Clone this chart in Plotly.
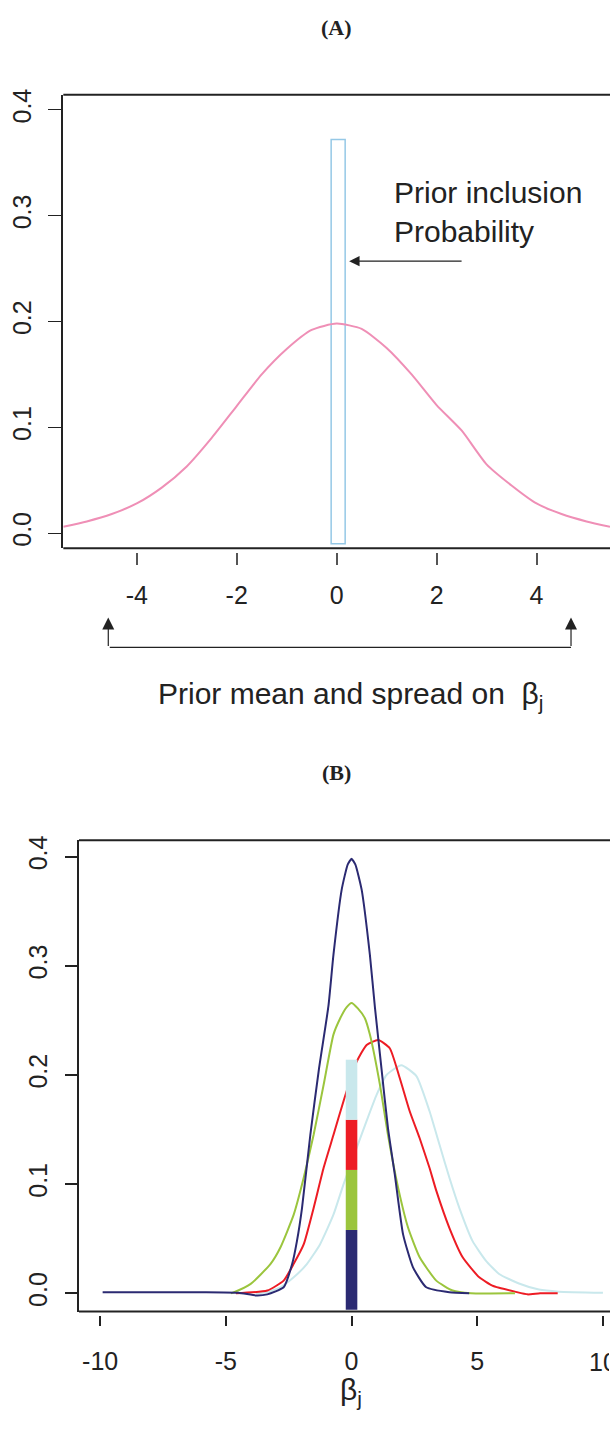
import plotly.graph_objects as go

W, H = 610, 1433

# ---------------- Panel A data ----------------
a_x = [-5.47, -5, -4.5, -4, -3.5, -3, -2.5, -2, -1.5, -1, -0.5, 0, 0.5, 1, 1.5, 2, 2.5, 3, 3.5, 4, 4.5, 5, 5.47]
a_y = [0.006, 0.011, 0.018, 0.028, 0.043, 0.063, 0.090, 0.120, 0.150, 0.174, 0.192, 0.198, 0.193, 0.175, 0.150,
       0.121, 0.097, 0.065, 0.045, 0.028, 0.018, 0.011, 0.006]
incl_x = [0.03]
incl_base = [-0.010]
incl_height = [0.382]
a_xticks = [-4, -2, 0, 2, 4]
a_xtick_labels = ["-4", "-2", "0", "2", "4"]
yticks = [0.0, 0.1, 0.2, 0.3, 0.4]
ytick_labels = ["0.0", "0.1", "0.2", "0.3", "0.4"]

# ---------------- Panel B data ----------------
navy_x = [-9.9, -6.0, -4.5, -3.8, -3.35, -2.7, -2.36, -2.17, -1.97, -1.64, -1.3, -0.92, -0.72, -0.39, -0.15, 0.0,
          0.15, 0.40, 0.73, 0.93, 1.19, 1.45, 1.72, 2.05, 2.44, 2.97, 3.89, 4.68]
navy_y = [0.001, 0.001, 0.0005, -0.002, -0.001, 0.0055, 0.027, 0.048, 0.078, 0.145, 0.205, 0.263, 0.31, 0.370,
          0.393, 0.398, 0.393, 0.370, 0.31, 0.262, 0.206, 0.151, 0.109, 0.054, 0.024, 0.0055, 0.001, 0.0]

green_x = [-4.8, -4.67, -4.01, -3.22, -2.83, -2.3, -1.9, -1.51, -1.11, -0.72, -0.45, -0.2, 0.0, 0.25, 0.53, 0.73,
           1.13, 1.45, 1.85, 2.25, 2.71, 3.37, 4.02, 4.75, 6.5]
green_y = [0.0, 0.001, 0.0086, 0.027, 0.042, 0.072, 0.106, 0.145, 0.191, 0.237, 0.252, 0.262, 0.266, 0.261, 0.252,
           0.237, 0.191, 0.145, 0.097, 0.060, 0.033, 0.0116, 0.0025, 0.0, 0.0]

red_x = [-4.6, -3.35, -2.7, -2.3, -1.9, -1.51, -1.11, -0.72, -0.32, 0.2, 0.6, 1.06, 1.52, 1.92, 2.31, 2.71, 3.1,
         3.37, 3.89, 4.42, 5.08, 5.6, 5.87, 6.5, 7.0, 7.5, 8.2]
red_y = [0.0, 0.0025, 0.0116, 0.027, 0.045, 0.078, 0.115, 0.145, 0.176, 0.212, 0.2275, 0.232, 0.2245, 0.197, 0.167,
         0.142, 0.115, 0.094, 0.060, 0.033, 0.0146, 0.007, 0.005, 0.0015, -0.001, 0.0, 0.0]

cyan_x = [-3.8, -3.35, -2.83, -2.3, -1.77, -1.25, -0.72, -0.32, 0.2, 0.6, 1.0, 1.39, 1.98, 2.58, 3.1, 3.5, 3.89,
          4.29, 4.81, 5.34, 5.87, 6.66, 7.45, 8.24, 10.0]
cyan_y = [0.0, 0.001, 0.0055, 0.0146, 0.027, 0.045, 0.072, 0.0998, 0.133, 0.158, 0.182, 0.200, 0.209, 0.199, 0.167,
          0.136, 0.106, 0.078, 0.048, 0.030, 0.0177, 0.009, 0.0034, 0.0015, 0.0005]

bar_floor = -0.015
bar_segments = [0.073, 0.055, 0.046, 0.055]   # navy, green, red, cyan
b_xticks = [-10, -5, 0, 5, 10]
b_xtick_labels = ["-10", "-5", "0", "5", "10"]

NAVY, GREEN, RED, CYAN = "#2b2a72", "#9bc53d", "#ed1c24", "#c9e8ec"
PINK, LBLUE = "#ef8fb6", "#95c8e6"
INK = "#222222"
FONT = "Liberation Sans, Arial, sans-serif"
SERIF = "Liberation Serif, Times New Roman, serif"


def pxx(px):
    return px / W


def pxy(py):
    return 1 - py / H


fig = go.Figure()

# Panel A
fig.add_trace(go.Bar(x=incl_x, y=incl_height, base=incl_base, width=0.28,
                     marker=dict(color="rgba(0,0,0,0)", line=dict(color=LBLUE, width=1.5)),
                     xaxis="x", yaxis="y", hoverinfo="skip"))
fig.add_trace(go.Scatter(x=a_x, y=a_y, mode="lines", line=dict(color=PINK, width=2, shape="spline", smoothing=0.6),
                         xaxis="x", yaxis="y", hoverinfo="skip"))

# Panel B curves (bottom to top)
for xs, ys, col in [(cyan_x, cyan_y, CYAN), (red_x, red_y, RED), (green_x, green_y, GREEN), (navy_x, navy_y, NAVY)]:
    fig.add_trace(go.Scatter(x=xs, y=ys, mode="lines", line=dict(color=col, width=2, shape="spline", smoothing=0.5),
                             xaxis="x2", yaxis="y2", hoverinfo="skip"))

# Panel B stacked bar, drawn above curves
bw = 0.46
lo = bar_floor
for h, col in zip(bar_segments, [NAVY, GREEN, RED, CYAN]):
    hi = lo + h
    fig.add_trace(go.Scatter(x=[-bw / 2, bw / 2, bw / 2, -bw / 2, -bw / 2], y=[lo, lo, hi, hi, lo],
                             mode="lines", fill="toself", fillcolor=col, line=dict(width=0, color=col),
                             xaxis="x2", yaxis="y2", hoverinfo="skip"))
    lo = hi

tickfont = dict(family=FONT, size=25, color=INK)

fig.update_layout(
    width=W, height=H, autosize=False, margin=dict(l=0, r=0, t=0, b=0),
    paper_bgcolor="white", plot_bgcolor="white", showlegend=False, barmode="overlay",
    xaxis=dict(domain=[pxx(63.3), 1], range=[-5.47, 5.47], anchor="free", position=pxy(548),
               tickvals=a_xticks, ticktext=a_xtick_labels, ticks="outside", ticklen=12, tickwidth=1.5,
               tickcolor="#555555", showline=False, showgrid=False, zeroline=False, tickfont=tickfont,
               ticklabelstandoff=9),
    yaxis=dict(domain=[pxy(544.5), pxy(89)], range=[-0.0143, 0.4144], anchor="x",
               tickvals=yticks, ticktext=ytick_labels, ticks="outside", ticklen=13, tickwidth=1.2,
               tickcolor=INK, showline=True, linewidth=2, linecolor=INK, showgrid=False, zeroline=False,
               tickangle=-90, tickfont=tickfont, ticklabelstandoff=7),
    xaxis2=dict(domain=[pxx(79), 1], range=[-10.84, 10.28], anchor="free", position=pxy(1315),
                tickvals=b_xticks, ticktext=b_xtick_labels, ticks="outside", ticklen=10, tickwidth=2,
                tickcolor=INK, showline=False, showgrid=False, zeroline=False, tickfont=tickfont,
                ticklabelstandoff=14),
    yaxis2=dict(domain=[pxy(1311), pxy(837.7)], range=[-0.0167, 0.4151], anchor="x2",
                tickvals=yticks, ticktext=ytick_labels, ticks="outside", ticklen=12, tickwidth=2,
                tickcolor=INK, showline=True, linewidth=2, linecolor=INK, showgrid=False, zeroline=False,
                tickangle=-90, tickfont=tickfont, ticklabelstandoff=8),
)

# Box top/bottom lines
for xr, yr in [("x domain", "y domain"), ("x2 domain", "y2 domain")]:
    for yy in (0, 1):
        fig.add_shape(type="line", xref=xr, yref=yr, x0=0, x1=1.0, y0=yy, y1=yy,
                      line=dict(color=INK, width=2))

ann = []
ann.append(dict(text="<b>(A)</b>", x=pxx(336), y=pxy(22), xref="paper", yref="paper", showarrow=False,
                font=dict(family=SERIF, size=22, color=INK), xanchor="center", yanchor="middle"))
ann.append(dict(text="<b>(B)</b>", x=pxx(336), y=pxy(770), xref="paper", yref="paper", showarrow=False,
                font=dict(family=SERIF, size=22, color=INK), xanchor="center", yanchor="middle"))
ann.append(dict(text="Prior inclusion<br>Probability", x=1.1, xref="x", y=pxy(207), yref="paper",
                showarrow=False, align="left", xanchor="left", yanchor="middle",
                font=dict(family=FONT, size=30, color=INK)))
ann.append(dict(text="", x=0.25, y=0.257, xref="x", yref="y", ax=2.53, ay=0.257, axref="x", ayref="y",
                showarrow=True, arrowhead=2, arrowsize=1.6, arrowwidth=1.3, arrowcolor=INK, standoff=0))
# bracket under panel A
for bx in (-4.57, 4.69):
    ann.append(dict(text="", x=bx, y=pxy(614), xref="x", yref="paper", ax=0, ay=30,
                    showarrow=True, arrowhead=2, arrowsize=2, arrowwidth=1.2, arrowcolor=INK, standoff=0))
ann.append(dict(text="", x=4.69, y=pxy(644), xref="x", yref="paper", ax=-4.57, axref="x", ay=0,
                showarrow=True, arrowhead=0, arrowwidth=1.2, arrowcolor=INK, standoff=0))
ann.append(dict(text="Prior mean and spread on  β<sub>j</sub>", x=pxx(351), y=pxy(692), xref="paper",
                yref="paper", showarrow=False, xanchor="center", yanchor="middle",
                font=dict(family=FONT, size=30, color=INK)))
ann.append(dict(text="β<sub>j</sub>", x=pxx(351), y=pxy(1391), xref="paper", yref="paper", showarrow=False,
                xanchor="center", yanchor="middle", font=dict(family=FONT, size=30, color=INK)))
# last B tick label, cut by the right edge of the figure as in the reference
ann.append(dict(text=b_xtick_labels[-1], x=pxx(588), y=pxy(1362), xref="paper", yref="paper", showarrow=False,
                xanchor="left", yanchor="middle", width=20, align="left", borderpad=0,
                font=dict(family=FONT, size=25, color=INK)))
fig.update_layout(annotations=ann)

post = (
    "document.documentElement.style.margin='0';"
    "document.body.style.margin='0';"
    "document.body.style.overflow='hidden';"
    "document.documentElement.style.overflow='hidden';"
)
fig.write_html("out.html", config={"displayModeBar": False, "responsive": False}, post_script=post)
